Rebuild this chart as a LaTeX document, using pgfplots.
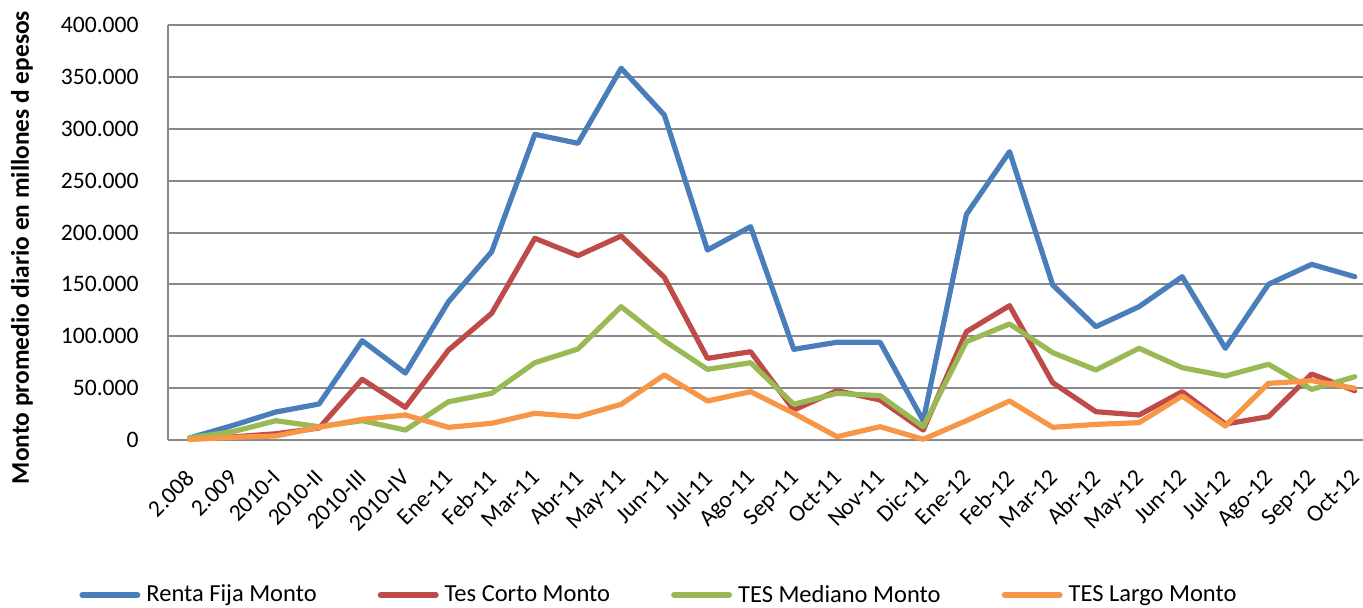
\documentclass[border=0pt]{standalone}
\usepackage{fontspec}
\setmainfont{Carlito}
\usepackage{pgfplots}
\pgfplotsset{compat=1.18}
\usepackage{pgfplotstable}
\definecolor{cblue}{HTML}{4A7EBB}
\definecolor{cred}{HTML}{BE4B48}
\definecolor{cgreen}{HTML}{98B954}
\definecolor{corange}{HTML}{F79646}
\definecolor{cgrid}{HTML}{898989}

\pgfplotstableread{
x renta corto mediano largo
0  2000   1000   2000   500
1  14000  3000   8000   2600
2  27000  6000   18600  3900
3  34700  11500  12800  12200
4  95700  58500  18600  19900
5  64500  31500  9600   24100
6  133300 86700  36900  12200
7  181500 122100 45000  16100
8  294600 194400 74500  25700
9  286000 177700 87700  22500
10 358300 196600 128500 34400
11 313300 156800 95700  62700
12 183100 78700  68100  37600
13 205600 85100  74500  46600
14 87400  28900  34400  25700
15 94200  47500  45000  3200
16 94200  38600  42700  12800
17 18600  9600   12800  700
18 217500 104400 94800  18600
19 277900 129500 111800 37600
20 149400 55200  84200  12200
21 109200 27300  67500  15100
22 128500 24100  88400  16700
23 157400 46600  69700  42400
24 88400  15400  61700  13500
25 150100 22500  73000  54600
26 169300 63600  48800  57200
27 157400 47500  61000  49800
}\datatable

\begin{document}
\begin{tikzpicture}
\begin{axis}[
  at={(0,0)}, anchor=south west,
  scale only axis,
  width=597.5bp, height=207.5bp,
  xmin=-0.5, xmax=27.19,
  ymin=0, ymax=400000,
  scaled y ticks=false,
  axis lines*=left,
  axis line style={cgrid, line width=1bp},
  x axis line style={-}, y axis line style={-},
  ytick={0,50000,100000,150000,200000,250000,300000,350000,400000},
  yticklabels={0,50.000,100.000,150.000,200.000,250.000,300.000,350.000,400.000},
  xtick={0,...,27},
  xticklabels={2.008,2.009,2010-I,2010-II,2010-III,2010-IV,Ene-11,Feb-11,Mar-11,Abr-11,May-11,Jun-11,Jul-11,Ago-11,Sep-11,Oct-11,Nov-11,Dic-11,Ene-12,Feb-12,Mar-12,Abr-12,May-12,Jun-12,Jul-12,Ago-12,Sep-12,Oct-12},
  major tick length=0pt,
  ymajorgrids,
  grid style={cgrid, line width=1bp},
  tick label style={font=\fontsize{11.8bp}{13bp}\selectfont, text=black},
  xticklabel style={rotate=45, anchor=north east, inner sep=0pt, xshift=-11.7bp, yshift=-8.1bp},
  yticklabel style={anchor=east, inner sep=0pt, xshift=-14.5bp},
  /pgf/number format/assume math mode=true,
  ylabel={Monto promedio diario en millones d epesos},
  every axis y label/.style={at={(axis description cs:-0.1222,0.4638)}, rotate=90, anchor=center, font=\bfseries\fontsize{12.7bp}{14bp}\selectfont},
  legend columns=4,
  legend style={draw=none, fill=none, at={(0.4117,-0.3735)}, anchor=center,
    font=\fontsize{12.25bp}{13bp}\selectfont,
    /tikz/every even column/.append style={column sep=28.5bp}},
  legend image code/.code={\draw[#1, line width=3bp, line cap=round] (0bp,0bp) -- (27.5bp,0bp);},
  legend cell align=left,
  every axis plot/.append style={line width=2.6bp, line join=round, line cap=round, mark=none},
  clip=false,
]
\addplot[cblue] table[x=x, y=renta] {\datatable};
\addlegendentry{\hspace{1bp}Renta Fija Monto}
\addplot[cred] table[x=x, y=corto] {\datatable};
\addlegendentry{\hspace{1bp}Tes Corto Monto}
\addplot[cgreen] table[x=x, y=mediano] {\datatable};
\addlegendentry{\hspace{1bp}TES Mediano Monto}
\addplot[corange] table[x=x, y=largo] {\datatable};
\addlegendentry{\hspace{1bp}TES Largo Monto}
\end{axis}
\pgfresetboundingbox
\path[use as bounding box] (-84bp,-84bp) rectangle (597.5bp,220bp);
\end{tikzpicture}
\end{document}
